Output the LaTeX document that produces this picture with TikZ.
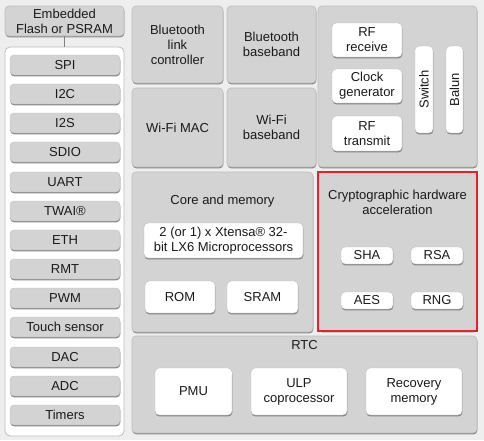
\documentclass[tikz,border=0pt]{standalone}
\usepackage{fontspec}
\setmainfont{Liberation Sans}
\usetikzlibrary{shadows}
\definecolor{bg}{HTML}{EEEEEE}
\definecolor{gfill}{HTML}{D3D3D3}
\definecolor{gline}{HTML}{BDBDBD}
\definecolor{shad}{HTML}{7A7A7A}
\definecolor{txt}{HTML}{1A1A1A}
\definecolor{redc}{HTML}{E8202A}
\tikzset{
  base/.style={inner sep=0pt, align=center, text=txt, font=\fontsize{13}{15}\selectfont},
  gbox/.style={base, fill=gfill, draw=gline, line width=0.6pt, rounded corners=4pt,
    drop shadow={shadow xshift=0.4pt, shadow yshift=-1.4pt, fill=shad, opacity=0.9}},
  wbox/.style={base, fill=white, draw=gline, line width=0.4pt, rounded corners=4pt,
    drop shadow={shadow xshift=0.4pt, shadow yshift=-1.4pt, fill=shad, opacity=0.9}},
  tile/.style={base, fill=gfill, draw=gline, line width=0.4pt, rounded corners=4pt,
    drop shadow={shadow xshift=0.3pt, shadow yshift=-1.4pt, fill=shad, opacity=0.9}},
  panel/.style={fill=white, draw=gline, line width=0.8pt, rounded corners=5pt},
  redframe/.style={draw=redc, line width=1.6pt},
  conn/.style={draw=gray, line width=0.8pt},
  lbl/.style={base}
}
\newcommand\Bx[7]{\node[#6, minimum width={(#4-#2)*1pt}, minimum height={(#5-#3)*1pt}] (#1) at ({(#2+#4)/2},{(#3+#5)/2}) {#7};}
\begin{document}
\begin{tikzpicture}[x=1pt,y=-1pt]
\fill[bg] (0,0) rectangle (484,440);
\useasboundingbox (0,0) rectangle (484,440);
% left column
\Bx{panel}{5}{47}{124}{436}{panel}{}
\Bx{emb}{5}{6}{124}{36}{gbox}{Embedded\\Flash or PSRAM}
\draw[conn] (emb.south) -- (panel.north);
\Bx{spi}{10}{55}{120}{75}{tile}{SPI}
\Bx{iic}{10}{84}{120}{104}{tile}{I2C}
\Bx{iis}{10}{113}{120}{133}{tile}{I2S}
\Bx{sdio}{10}{142}{120}{162}{tile}{SDIO}
\Bx{uart}{10}{172}{120}{192}{tile}{UART}
\Bx{twai}{10}{201}{120}{221}{tile}{TWAI®}
\Bx{eth}{10}{230}{120}{250}{tile}{ETH}
\Bx{rmt}{10}{259}{120}{279}{tile}{RMT}
\Bx{pwm}{10}{288}{120}{308}{tile}{PWM}
\Bx{touch}{10}{317}{120}{337}{tile}{Touch sensor}
\Bx{dac}{10}{347}{120}{367}{tile}{DAC}
\Bx{adc}{10}{376}{120}{396}{tile}{ADC}
\Bx{timers}{10}{405}{120}{425}{tile}{Timers}
% wireless
\Bx{btlc}{132}{6}{223}{83}{gbox}{Bluetooth\\link\\controller}
\Bx{btbb}{227}{6}{316}{83}{gbox}{Bluetooth\\baseband}
\Bx{wmac}{132}{88}{223}{167}{gbox}{Wi-Fi MAC}
\Bx{wbb}{227}{88}{316}{167}{gbox}{Wi-Fi\\baseband}
% RF
\Bx{rf}{318}{6}{477}{167}{gbox}{}
\Bx{rfrx}{332}{23}{402}{57}{wbox}{RF\\receive}
\Bx{clk}{332}{69}{402}{103}{wbox}{Clock\\generator}
\Bx{rftx}{332}{116}{402}{151}{wbox}{RF\\transmit}
\Bx{sw}{415}{46}{433}{133}{wbox}{}
\node[lbl, rotate=90] (swl) at (sw.center) {Switch};
\Bx{bal}{446}{46}{463}{133}{wbox}{}
\node[lbl, rotate=90] (ball) at (bal.center) {Balun};
% core
\Bx{core}{132}{172}{313}{332}{gbox}{}
\node[lbl] (corel) at (222.5,201) {Core and memory};
\Bx{cpu}{144}{223}{303}{258}{wbox}{2 (or 1) x Xtensa® 32-\\bit LX6 Microprocessors}
\Bx{rom}{145}{281}{215}{313}{wbox}{ROM}
\Bx{sram}{227}{281}{298}{313}{wbox}{SRAM}
% crypto
\Bx{cry}{318}{172}{477}{331}{gbox}{}
\draw[redframe] (318,172) rectangle (477,331);
\node[lbl] (cryl) at (397.5,202) {Cryptographic hardware\\acceleration};
\Bx{sha}{341}{247}{393}{264}{wbox}{SHA}
\Bx{rsa}{411}{247}{463}{264}{wbox}{RSA}
\Bx{aes}{341}{292}{393}{309}{wbox}{AES}
\Bx{rng}{411}{292}{463}{309}{wbox}{RNG}
% RTC
\Bx{rtc}{132}{336}{477}{433}{gbox}{}
\node[lbl] (rtcl) at (304.5,345) {RTC};
\Bx{pmu}{155}{368}{232}{415}{wbox}{PMU}
\Bx{ulp}{251}{368}{347}{415}{wbox}{ULP\\coprocessor}
\Bx{rec}{366}{368}{462}{415}{wbox}{Recovery\\memory}
\end{tikzpicture}
\end{document}
